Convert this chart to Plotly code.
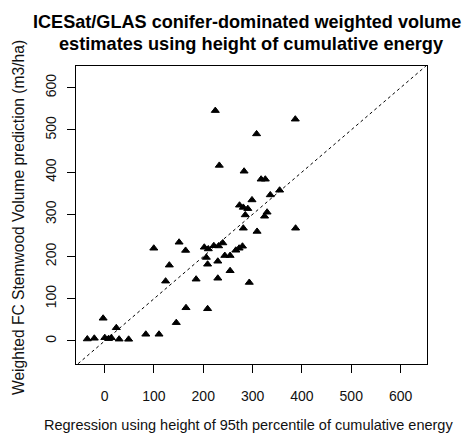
import plotly.graph_objects as go

# Regression using height of 95th percentile of cumulative energy (x)
reg_x = [224.4, 386.6, 308.1, 232.5, 282.8, 317.3, 325.8, 354.8, 335.9, 298.8,
         273.5, 281.2, 290.3, 285.2, 329.4, 324.3, 281.2, 309.1, 387.2, 202.1,
         210.2, 221.4, 231.1, 239.6, 266.0, 272.7, 279.5, 243.7, 254.4, 206.2,
         208.8, 229.5, 254.4, 229.5, 293.3, 99.7, 151.0, 164.2, 131.2, 123.7,
         185.5, 165.0, 208.8, 145.3, -3.0, 23.7, -35.1, -20.9, 0.4, 8.1,
         13.6, 29.4, 48.7, 83.5, 110.3]
# Weighted FC Stemwood Volume prediction (m3/ha) (y)
fc_y = [545.7, 525.4, 490.5, 415.9, 402.1, 383.2, 383.2, 357.1, 346.0, 334.1,
        321.6, 316.4, 313.5, 298.6, 305.0, 295.5, 267.1, 259.5, 267.1, 222.0,
        218.0, 225.6, 225.1, 232.2, 214.9, 219.7, 224.4, 202.4, 202.4, 197.9,
        181.8, 188.9, 166.4, 148.6, 138.6, 219.7, 233.9, 214.5, 179.6, 141.7,
        146.4, 78.7, 76.3, 43.4, 53.8, 31.3, 4.7, 6.4, 7.8, 5.5,
        7.6, 4.3, 4.0, 15.9, 15.9]

tick_vals = [0, 100, 200, 300, 400, 500, 600]
x_range = [-58.0, 653.6]
y_range = [-54.5, 651.4]
one_to_one = [-100, 700]

title_lines = ["ICESat/GLAS conifer-dominated weighted volume",
               "estimates using height of cumulative energy"]
x_title = "Regression using height of 95th percentile of cumulative energy"
y_title = "Weighted FC Stemwood Volume prediction (m3/ha)"

FONT = "Liberation Sans, Arial, sans-serif"
W, H = 464, 435
ML, MR, MT, MB = 76, 37, 66, 71
PW, PH = W - ML - MR, H - MT - MB


def px_x(px):
    return (px - ML) / PW


def px_y(py):
    return (H - MB - py) / PH


fig = go.Figure()
fig.add_trace(go.Scatter(
    x=one_to_one, y=one_to_one, mode="lines",
    line=dict(color="black", width=1, dash="dot"),
    hoverinfo="skip", showlegend=False))
fig.add_trace(go.Scatter(
    x=reg_x, y=fc_y, mode="markers",
    marker=dict(symbol="triangle-up", size=7, color="black",
                line=dict(color="black", width=1)),
    showlegend=False))

axis_common = dict(
    showgrid=False, zeroline=False, showline=True, mirror=True,
    linecolor="black", linewidth=1, ticks="outside", ticklen=8,
    tickwidth=1, tickcolor="black", tickvals=tick_vals,
    tickfont=dict(family=FONT, size=14, color="#111"),
)

annotations = [
    dict(text="<b>" + title_lines[0] + "</b>", x=px_x(247), y=px_y(22),
         xref="paper", yref="paper", xanchor="center", yanchor="middle",
         showarrow=False, font=dict(family=FONT, size=18.1, color="black")),
    dict(text="<b>" + title_lines[1] + "</b>", x=px_x(251), y=px_y(44),
         xref="paper", yref="paper", xanchor="center", yanchor="middle",
         showarrow=False, font=dict(family=FONT, size=18.2, color="black")),
    dict(text=x_title, x=px_x(248), y=px_y(425),
         xref="paper", yref="paper", xanchor="center", yanchor="middle",
         showarrow=False, font=dict(family=FONT, size=14.5, color="#111")),
    dict(text=y_title, x=px_x(19), y=px_y(218), textangle=-90,
         xref="paper", yref="paper", xanchor="center", yanchor="middle",
         showarrow=False, font=dict(family=FONT, size=15.6, color="#111")),
]

fig.update_layout(
    width=W, height=H,
    margin=dict(l=ML, r=MR, t=MT, b=MB),
    paper_bgcolor="white", plot_bgcolor="white",
    xaxis=dict(range=x_range, ticklabelstandoff=11, **axis_common),
    yaxis=dict(range=y_range, tickangle=-90, ticklabelstandoff=5, **axis_common),
    annotations=annotations,
)

fig.write_html("out.html")
